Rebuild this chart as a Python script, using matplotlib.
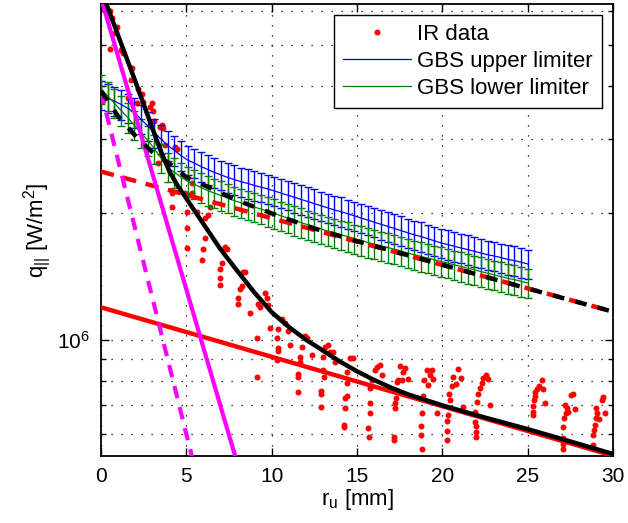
import numpy as np
import matplotlib.pyplot as plt
from matplotlib.ticker import LogLocator, NullFormatter

plt.rcParams['font.family'] = ['Liberation Sans', 'DejaVu Sans']
plt.rcParams['mathtext.default'] = 'regular'

# IR data (r_u in mm, q in MW/m^2)
ir_x = [0.55, 0.67, 0.92, 0.82, 0.55, 1.19, 1.31, 1.80, 1.76, 2.19, 2.40, 1.60, 2.09, 2.48,
        2.87, 2.97, 3.06, 3.11, 3.56, 3.65, 3.46, 3.36, 3.75, 4.34, 4.43, 4.14, 4.14, 4.92,
        5.12, 5.31, 5.31, 5.02, 5.61, 6.39, 6.29, 6.09, 5.02, 6.09, 5.99, 5.02, 5.90, 7.26,
        7.36, 7.17, 7.07, 6.97, 6.97, 6.97, 8.34, 8.44, 8.24, 8.14, 8.04, 8.04, 8.73, 9.21,
        9.61, 9.71, 9.31, 9.80, 9.12, 9.12, 9.90, 10.29, 10.39, 10.59, 10.78, 10.97, 10.39,
        10.35, 10.31, 11.07, 11.76, 11.95, 12.05, 11.66, 11.66, 12.34, 11.56, 11.56, 11.56,
        12.89, 12.89, 12.89, 13.02, 13.02, 13.08, 13.12, 13.32, 13.42, 13.61, 13.71, 14.29,
        14.29, 14.25, 14.22, 14.39, 14.39, 14.39, 14.59, 14.78, 15.76, 15.76, 15.76, 15.66,
        15.70, 15.86, 16.05, 16.15, 16.34, 16.44, 17.22, 17.22, 17.26, 17.32, 17.42, 17.52,
        17.71, 17.81, 17.62, 17.97, 17.18, 17.18, 18.79, 18.75, 18.75, 18.79, 18.89, 18.94,
        19.08, 19.18, 19.28, 19.37, 19.47, 19.67, 20.35, 20.29, 20.29, 20.29, 20.44, 20.54,
        20.64, 20.80, 20.93, 21.10, 21.22, 20.40, 21.91, 21.91, 21.97, 22.00, 21.97, 22.05,
        22.10, 22.20, 22.30, 22.40, 22.55, 22.69, 22.81, 25.82, 25.68, 25.53, 25.43, 25.91,
        25.43, 25.37, 25.33, 26.01, 25.33, 25.33, 27.63, 27.52, 27.18, 27.28, 27.38, 27.24,
        27.77, 27.12, 27.08, 27.05, 27.05, 27.05, 29.43, 29.33, 29.00, 29.04, 29.19, 28.99,
        28.94, 28.88, 28.84, 28.80, 29.53]
ir_q = [6.00, 5.78, 5.52, 5.33, 4.89, 4.86, 4.78, 4.41, 4.13, 3.94, 3.83, 3.74, 3.64, 3.67,
        3.56, 3.64, 3.48, 3.31, 3.23, 3.18, 3.19, 2.62, 2.90, 2.87, 2.84, 2.23, 2.07, 2.23,
        2.21, 2.35, 2.23, 2.01, 2.01, 2.07, 1.98, 1.94, 1.84, 1.74, 1.64, 1.65, 1.55, 1.66,
        1.64, 1.63, 1.52, 1.47, 1.40, 1.35, 1.45, 1.45, 1.34, 1.32, 1.26, 1.22, 1.16, 1.22,
        1.29, 1.26, 1.20, 1.21, 1.01, 0.818, 1.07, 1.01, 1.06, 1.12, 1.10, 1.05, 0.955,
        0.944, 0.897, 0.973, 0.964, 1.02, 1.01, 0.912, 0.889, 0.920, 0.830, 0.815, 0.753,
        0.759, 0.743, 0.693, 0.912, 0.849, 0.818, 0.964, 0.973, 0.938, 0.938, 0.889, 0.728,
        0.689, 0.630, 0.621, 0.841, 0.789, 0.735, 0.906, 0.906, 0.769, 0.708, 0.670, 0.618,
        0.590, 0.804, 0.849, 0.865, 0.873, 0.826, 0.689, 0.708, 0.728, 0.796, 0.804, 0.867,
        0.841, 0.857, 0.804, 0.807, 0.590, 0.579, 0.553, 0.596, 0.624, 0.670, 0.735, 0.804,
        0.849, 0.782, 0.826, 0.851, 0.807, 0.670, 0.664, 0.644, 0.610, 0.579, 0.721, 0.776,
        0.818, 0.785, 0.853, 0.811, 0.693, 0.745, 0.676, 0.640, 0.607, 0.590, 0.625, 0.714,
        0.745, 0.771, 0.789, 0.811, 0.826, 0.807, 0.702, 0.804, 0.776, 0.767, 0.752, 0.764,
        0.735, 0.721, 0.698, 0.708, 0.664, 0.675, 0.745, 0.741, 0.702, 0.689, 0.676, 0.670,
        0.685, 0.655, 0.621, 0.585, 0.568, 0.551, 0.731, 0.721, 0.689, 0.670, 0.649, 0.652,
        0.630, 0.612, 0.596, 0.564, 0.673]

# GBS simulations (MW/m^2) on a regular grid from 0 to 25 mm
gbs_x = np.linspace(0, 25, 65)
gbs_upper = [3.802, 3.741, 3.681, 3.614, 3.540, 3.459, 3.334, 3.214, 3.090, 2.992, 2.891,
             2.812, 2.735, 2.667, 2.624, 2.576, 2.535, 2.495, 2.460, 2.427, 2.399, 2.371,
             2.350, 2.323, 2.301, 2.280, 2.254, 2.228, 2.203, 2.178, 2.153, 2.128, 2.104,
             2.080, 2.056, 2.032, 2.014, 1.991, 1.968, 1.945, 1.923, 1.901, 1.879, 1.858,
             1.837, 1.816, 1.795, 1.774, 1.758, 1.738, 1.718, 1.698, 1.683, 1.667, 1.652,
             1.637, 1.622, 1.607, 1.592, 1.581, 1.567, 1.552, 1.542, 1.528, 1.514]
gbs_lower = [3.936, 3.784, 3.639, 3.499, 3.365, 3.228, 3.097, 2.972, 2.838, 2.698, 2.570,
             2.495, 2.432, 2.377, 2.339, 2.296, 2.259, 2.228, 2.198, 2.168, 2.138, 2.113,
             2.089, 2.065, 2.042, 2.018, 1.995, 1.968, 1.945, 1.919, 1.897, 1.875, 1.854,
             1.832, 1.811, 1.795, 1.774, 1.758, 1.738, 1.722, 1.702, 1.687, 1.671, 1.656,
             1.641, 1.626, 1.607, 1.592, 1.578, 1.563, 1.549, 1.535, 1.521, 1.507, 1.493,
             1.479, 1.466, 1.452, 1.439, 1.426, 1.413, 1.400, 1.390, 1.377, 1.365]
rel_err = 0.08

# fitted profiles (MW/m^2)
fit_x = [0, 1, 2, 3, 3.5, 4, 4.5, 5, 6, 7, 8, 9, 10, 11, 12, 13, 14, 15, 16, 17, 18, 20,
         22.5, 25, 27.5, 30]
fit_total = [6.761, 5.272, 4.111, 3.184, 2.805, 2.512, 2.317, 2.163, 1.884, 1.641, 1.455,
             1.294, 1.164, 1.074, 1.002, 0.944, 0.889, 0.843, 0.804, 0.771, 0.743, 0.700,
             0.655, 0.615, 0.575, 0.537]
gbsfit_x = [0, 1, 2, 3, 4, 5, 6, 8, 10, 12.5, 15, 20, 25, 30]
gbsfit_total = [3.89, 3.39, 3.05, 2.79, 2.62, 2.43, 2.33, 2.14, 1.995, 1.837, 1.714, 1.507,
                1.324, 1.167]
far_x = [0, 30]
far_ir = [1.195, 0.532]
far_gbs = [2.506, 1.167]
near_ir_x = [0, 8]
near_ir = [6.457, 0.508]
near_gbs_x = [0, 5.4]
near_gbs = [3.873, 0.516]

M = 1e6
fig = plt.figure(figsize=(6.28, 5.23), dpi=100)
ax = fig.add_axes([0.1608, 0.1287, 0.8153, 0.8637])

ax.plot(ir_x, np.array(ir_q) * M, 'o', color='red', ms=4.3, mec='none', label='IR data', zorder=2)

up = np.array(gbs_upper) * M
lo = np.array(gbs_lower) * M
ax.errorbar(gbs_x, up, yerr=up * rel_err, fmt='none', ecolor='#0000ff', elinewidth=1.0,
            capsize=3.2, capthick=1.0, zorder=3)
ax.errorbar(gbs_x, lo, yerr=lo * rel_err, fmt='none', ecolor='#008000', elinewidth=1.0,
            capsize=3.2, capthick=1.0, zorder=3)
ax.plot(gbs_x, up, color='#0000ff', lw=0.9, label='GBS upper limiter', zorder=3)
ax.plot(gbs_x, lo, color='#008000', lw=0.9, label='GBS lower limiter', zorder=3)

ax.plot(far_x, np.array(far_ir) * M, color='red', lw=3.2, zorder=4)
ax.plot(far_x, np.array(far_gbs) * M, color='red', lw=3.2, dashes=(3, 2.2), zorder=4)
ax.plot(near_ir_x, np.array(near_ir) * M, color='#ff00ff', lw=3.0, zorder=4)
ax.plot(near_gbs_x, np.array(near_gbs) * M, color='#ff00ff', lw=3.0, dashes=(3, 2.2), zorder=4)
ax.plot(fit_x, np.array(fit_total) * M, color='black', lw=3.2, zorder=5)
ax.plot(gbsfit_x, np.array(gbsfit_total) * M, color='black', lw=3.2, dashes=(2.6, 2.6),
        dash_capstyle='butt', zorder=5)

ax.set_yscale('log')
ax.set_xlim(0, 30)
ax.set_ylim(5.32e5, 6.25e6)
ax.set_xticks([0, 5, 10, 15, 20, 25, 30])
ax.yaxis.set_minor_locator(LogLocator(base=10, subs=np.arange(2, 10)))
ax.yaxis.set_minor_formatter(NullFormatter())

ax.tick_params(which='both', direction='in', top=True, right=True, labelsize=15, width=1)
ax.tick_params(which='major', length=6, pad=8)
ax.tick_params(which='minor', length=3.5)
for s in ax.spines.values():
    s.set_linewidth(1.3)

gs = dict(color='black', lw=0.9, dashes=(1, 7))
ax.xaxis.grid(True, which='major', **gs)
ax.yaxis.grid(True, which='both', **gs)

ax.set_xlabel('r$_u$ [mm]', fontsize=16, labelpad=1)
ax.set_ylabel('q$_{||}$ [W/m$^2$]', fontsize=16, labelpad=3)

leg = ax.legend(loc='upper right', fontsize=16, numpoints=1, handlelength=3.05,
                handletextpad=0.3, labelspacing=0.27, borderpad=0.4, borderaxespad=0.5,
                fancybox=False, framealpha=1, edgecolor='black')
leg.get_frame().set_linewidth(1.0)

fig.savefig('out.png', dpi=100)
